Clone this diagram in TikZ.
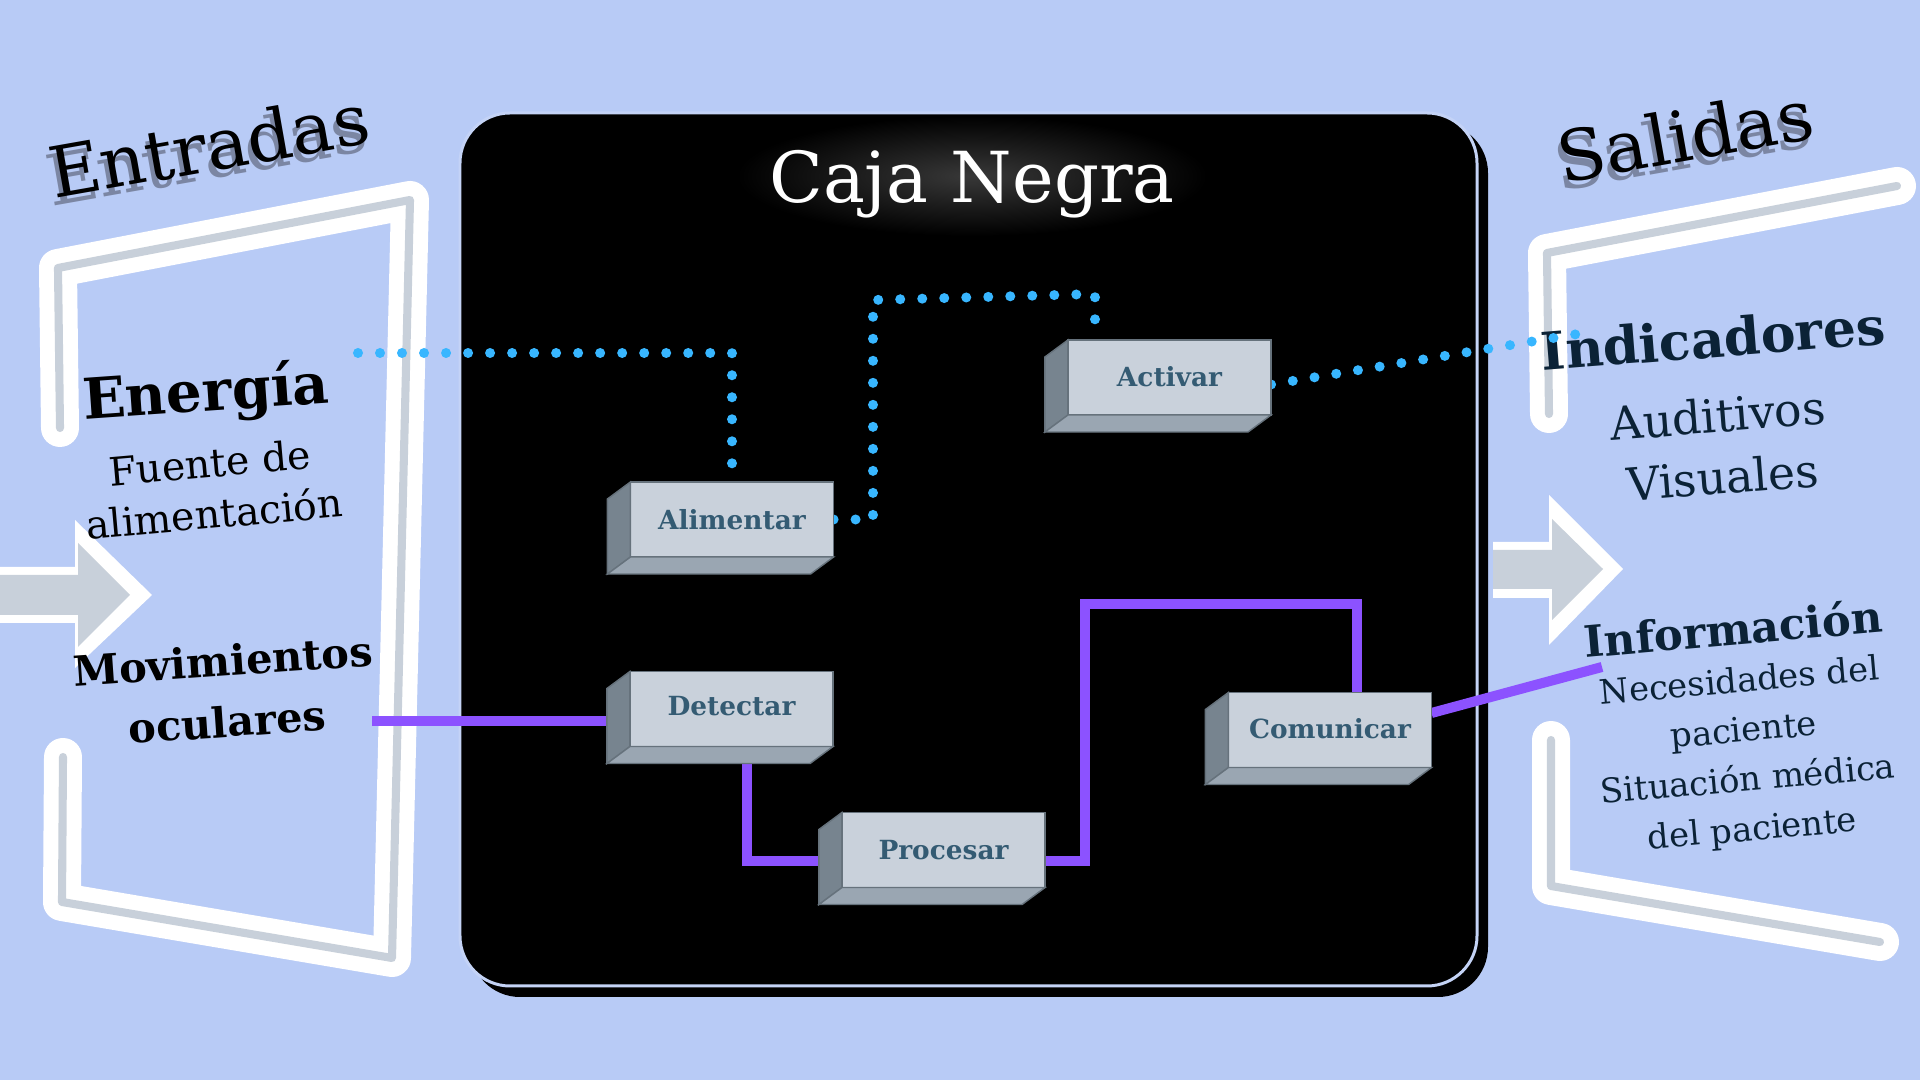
\documentclass[tikz,border=0pt]{standalone}
\usepackage{fontspec}
\setmainfont{DejaVu Serif}
\usetikzlibrary{calc,positioning}

\definecolor{bgblue}{HTML}{B8CBF6}
\definecolor{rimblue}{HTML}{C4D3F6}
\definecolor{frgray}{HTML}{C8D0DA}
\definecolor{dotblue}{HTML}{38B6FF}
\definecolor{purp}{HTML}{8C52FF}
\definecolor{facefront}{HTML}{C9D1DB}
\definecolor{faceleft}{HTML}{77848F}
\definecolor{facebottom}{HTML}{9AA6B2}
\definecolor{boxedge}{HTML}{66727C}
\definecolor{labelblue}{HTML}{345B73}
\definecolor{navy}{HTML}{0B2236}
\definecolor{shadowgray}{HTML}{7B86A3}

\pgfdeclarelayer{back}
\pgfdeclarelayer{lines}
\pgfsetlayers{back,lines,main}

\tikzset{
  blockbox/.style={draw=boxedge, line width=0.4pt, fill=facefront, minimum width=2.03cm,
    minimum height=0.75cm, inner sep=0pt, outer sep=0pt, text=labelblue,
    font=\bfseries\fontsize{7.5}{9}\selectfont},
  dotline/.style={dotblue, line width=2.85pt, line cap=round, dash pattern=on 0pt off 6.26pt},
  purpline/.style={purp, line width=2.85pt},
  frameline/.style={draw=white, line width=10.8pt, line cap=round, line join=round},
  framecore/.style={frgray, line width=2.3pt, line cap=round, line join=round},
  sidetitle/.style={font=\fontsize{20}{24}\selectfont, rotate=10, inner sep=0pt},
}

% side faces of a block (extruded to the lower left)
\newcommand\boxsides[1]{%
  \filldraw[fill=faceleft, draw=boxedge, line width=0.4pt] (#1.north west) -- ([shift={(-23,17)}]#1.north west)
    -- ([shift={(-23,17)}]#1.south west) -- (#1.south west) -- cycle;
  \filldraw[fill=facebottom, draw=boxedge, line width=0.4pt] (#1.south west) -- ([shift={(-23,17)}]#1.south west)
    -- ([shift={(-23,17)}]#1.south east) -- (#1.south east) -- cycle;
}

\begin{document}
\begin{tikzpicture}[x=0.01cm, y=-0.01cm]
	%%%%% START %%%%%
	\useasboundingbox (0,0) rectangle (1920,1080);

	\begin{pgfonlayer}{back}
	\fill[bgblue] (0,0) rectangle (1920,1080);

	% frames
	\draw[framecore, preaction={frameline}] (60,428) -- (58,268) -- (410,200) -- (392,958) -- (62,902) -- (63,757);
	\draw[framecore, preaction={frameline}] (1897,186) -- (1547,253) -- (1549,414);
	\draw[framecore, preaction={frameline}] (1551,740) -- (1551,886) -- (1880,942);

	% arrows
	\fill[white] (-20,567) -- (75,567) -- (75,520) -- (152,595) -- (75,668) -- (75,623) -- (-20,623) -- cycle;
	\fill[frgray] (-20,575) -- (78,575) -- (78,543) -- (130,595) -- (78,647) -- (78,615) -- (-20,615) -- cycle;
	\fill[white] (1493,542) -- (1549,542) -- (1549,495) -- (1623,569) -- (1549,645) -- (1549,598) -- (1493,598) -- cycle;
	\fill[frgray] (1493,550) -- (1552,550) -- (1552,519) -- (1603,569) -- (1552,620) -- (1552,589) -- (1493,589) -- cycle;

	% black box
	\fill[black, rounded corners=0.5cm] (470,123) rectangle (1488,997);
	\draw[rimblue, line width=0.85pt, fill=black, rounded corners=0.5cm] (460,113) rectangle (1477,986);
	\shade[inner color=white!22!black, outer color=black] (972,176) ellipse (235 and 60);
	\node[text=white, anchor=base, font=\fontsize{20}{24}\selectfont] (title) at (972,203) {Caja Negra};

	% side texts
	\node[sidetitle, text=shadowgray] (entrsh) at (206,153) {Entradas};
	\node[sidetitle] (entr) at (209,145) {Entradas};
	\node[sidetitle, text=shadowgray] (salsh) at (1682,143) {Salidas};
	\node[sidetitle] (sal) at (1685,135) {Salidas};

	\node[rotate=4, font=\bfseries\fontsize{16}{19}\selectfont] (energia) at (206,395) {Energía};
	\node[rotate=5, align=center, font=\fontsize{11.2}{14.5}\selectfont] (fuente) at (212,488) {Fuente de\\alimentación};
	\node[rotate=4, align=center, font=\bfseries\fontsize{11.8}{17.4}\selectfont] (movim) at (225,691) {Movimientos\\oculares};

	\node[rotate=4.5, text=navy, font=\bfseries\fontsize{14.8}{17}\selectfont] (indic) at (1713,338) {Indicadores};
	\node[rotate=4.5, text=navy, align=center, font=\fontsize{13}{17.6}\selectfont] (audit) at (1720,446) {Auditivos\\Visuales};
	\node[rotate=5, text=navy, font=\bfseries\fontsize{12.3}{15}\selectfont] (inform) at (1733,628) {Información};
	\node[rotate=5, text=navy, align=center, font=\fontsize{9.6}{14.1}\selectfont] (neces) at (1746,757) {Necesidades del\\paciente\\Situación médica\\del paciente};
	\end{pgfonlayer}

	% blocks
	\node[blockbox] (alim) at (732,519.5) {Alimentar};
	\node[blockbox] (det) at (731.5,709) {\raisebox{0.07cm}{Detectar}};
	\node[blockbox] (proc) at (943.5,850) {Procesar};
	\node[blockbox] (act) at (1169.5,377.5) {\raisebox{0.03cm}{Activar}};
	\node[blockbox] (com) at (1330,730) {\raisebox{0.03cm}{Comunicar}};
	\boxsides{alim}
	\boxsides{det}
	\boxsides{proc}
	\boxsides{act}
	\boxsides{com}

	\begin{pgfonlayer}{lines}
	\coordinate (pwr) at (358,353);
	\coordinate (k1) at (873,300);
	\coordinate (k2) at (1095,294);
	\coordinate (ind) at (1590,332);
	\draw[dotline] (pwr) -| (alim.north);
	\draw[dotline] (alim.east) -| (k1) -- (k2) -- (k2 |- act.north);
	\draw[dotline] ([yshift=-0.07cm]act.east) -- (ind);

	\coordinate (eye) at (372,721);
	\coordinate (p1) at (1085,604);
	\coordinate (info) at (1602,667);
	\draw[purpline] (eye) -- (eye -| det.west);
	\draw[purpline] ([xshift=0.15cm]det.south) |- ([yshift=-0.11cm]proc.west);
	\draw[purpline] ([yshift=-0.11cm]proc.east) -| (p1) -| ([xshift=0.27cm]com.north);
	\draw[purpline] ([yshift=0.17cm]com.east) -- (info);
	\end{pgfonlayer}
	%%%%% END %%%%%
\end{tikzpicture}
\end{document}
